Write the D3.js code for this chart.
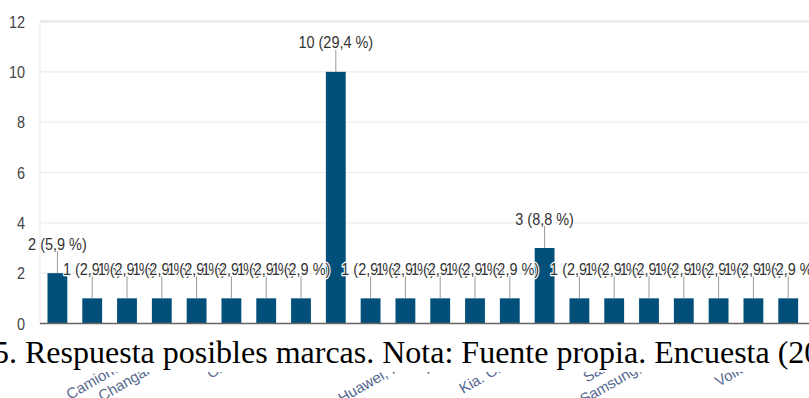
<!DOCTYPE html>
<html>
<head>
<meta charset="utf-8">
<script src="https://cdn.jsdelivr.net/npm/d3@7"></script>
<style>
  html, body { margin: 0; padding: 0; background: #fff; }
  svg { display: block; }
</style>
</head>
<body>
<svg id="chart" width="809" height="398"></svg>
<script>
// Brands named by respondents (alphabetical) and how many chose each one
const brands = [
  "Audi", "BMW", "BYD", "Camionetas Kia", "Changan, Chery", "Chery",
  "Chevrolet", "Fiat", "Ford", "Geely", "Honda", "Huawei, Hyundai",
  "Hyundai", "Kia", "Kia. Chevrolet", "Mazda", "Nissan", "Saic Motor",
  "Samsung, Toyota", "Suzuki", "Tesla", "Volkswagen"
];
const counts = [2, 1, 1, 1, 1, 1, 1, 1, 10, 1, 1, 1, 1, 1, 3, 1, 1, 1, 1, 1, 1, 1];
const yTicks = [0, 2, 4, 6, 8, 10, 12];
const caption = "5. Respuesta posibles marcas. Nota: Fuente propia. Encuesta (20";

const total = d3.sum(counts);
const pct = v => (v / total * 100).toFixed(1).replace(".", ",");
const rows = brands.map((b, i) => ({ brand: b, value: counts[i] }));

const svg = d3.select("#chart");
const barColor = "#02507a";
const squeeze = 0.85;           // narrow chart lettering
const chartFont = "'Liberation Sans', Arial, sans-serif";

const x = d3.scaleBand()
  .domain(brands)
  .range([40, 40 + 22 * 34.8])
  .paddingInner(0.43)
  .paddingOuter(0.215);

const y = d3.scaleLinear().domain([0, 12]).range([323.5, 21.5]);

// horizontal gridlines
svg.append("g").selectAll("line")
  .data(yTicks.filter(t => t > 0))
  .join("line")
  .attr("x1", 40).attr("x2", 809)
  .attr("y1", d => y(d)).attr("y2", d => y(d))
  .attr("stroke", d => d === 12 ? "#e4e4e4" : "#ececec")
  .attr("stroke-width", d => d === 12 ? 2 : 1.2);

// left frame line
svg.append("line")
  .attr("x1", 40).attr("x2", 40)
  .attr("y1", y(12)).attr("y2", y(0))
  .attr("stroke", "#ececec").attr("stroke-width", 1.2);

// y tick labels
svg.append("g").selectAll("text")
  .data(yTicks)
  .join("text")
  .attr("transform", d => `translate(25,${y(d)}) scale(${squeeze},1)`)
  .attr("text-anchor", "end")
  .attr("dy", "0.36em")
  .attr("font-family", chartFont)
  .attr("font-size", 17)
  .attr("fill", "#444")
  .text(d => d);

// category labels, slanted
svg.append("g").selectAll("text")
  .data(rows)
  .join("text")
  .attr("transform", d => `translate(${x(d.brand) + x.bandwidth() / 2},347) rotate(-30)`)
  .attr("text-anchor", "end")
  .attr("font-family", chartFont)
  .attr("font-size", 15)
  .attr("fill", "#55688f")
  .text(d => d.brand);

// bars
svg.append("g").selectAll("rect")
  .data(rows)
  .join("rect")
  .attr("x", d => x(d.brand))
  .attr("width", x.bandwidth())
  .attr("y", d => y(d.value))
  .attr("height", d => y(0) - y(d.value))
  .attr("fill", barColor);

// baseline
svg.append("line")
  .attr("x1", 40).attr("x2", 809)
  .attr("y1", y(0)).attr("y2", y(0))
  .attr("stroke", "#666").attr("stroke-width", 1.4);

// annotation stems
svg.append("g").selectAll("line")
  .data(rows)
  .join("line")
  .attr("x1", d => x(d.brand) + x.bandwidth() / 2)
  .attr("x2", d => x(d.brand) + x.bandwidth() / 2)
  .attr("y1", d => y(d.value))
  .attr("y2", d => y(d.value) - 22)
  .attr("stroke", "#999").attr("stroke-width", 1);

// annotation labels: count and share of respondents
svg.append("g").selectAll("text")
  .data(rows)
  .join("text")
  .attr("transform", d => `translate(${x(d.brand) + x.bandwidth() / 2},${y(d.value) - 23.5}) scale(${squeeze},1)`)
  .attr("text-anchor", "middle")
  .attr("font-family", chartFont)
  .attr("font-size", 17)
  .attr("fill", "#333")
  .attr("stroke", "#fff")
  .attr("stroke-width", 2.5)
  .attr("stroke-linejoin", "round")
  .attr("paint-order", "stroke")
  .text(d => `${d.value} (${pct(d.value)} %)`);

// figure caption line laid over the bottom of the chart
svg.append("rect")
  .attr("x", 0).attr("y", 336).attr("width", 809).attr("height", 36)
  .attr("fill", "#fff");

svg.append("text")
  .attr("x", -7).attr("y", 363)
  .attr("font-family", "'Liberation Serif', 'Times New Roman', serif")
  .attr("font-size", 32)
  .attr("fill", "#000")
  .text(caption);
</script>
</body>
</html>
